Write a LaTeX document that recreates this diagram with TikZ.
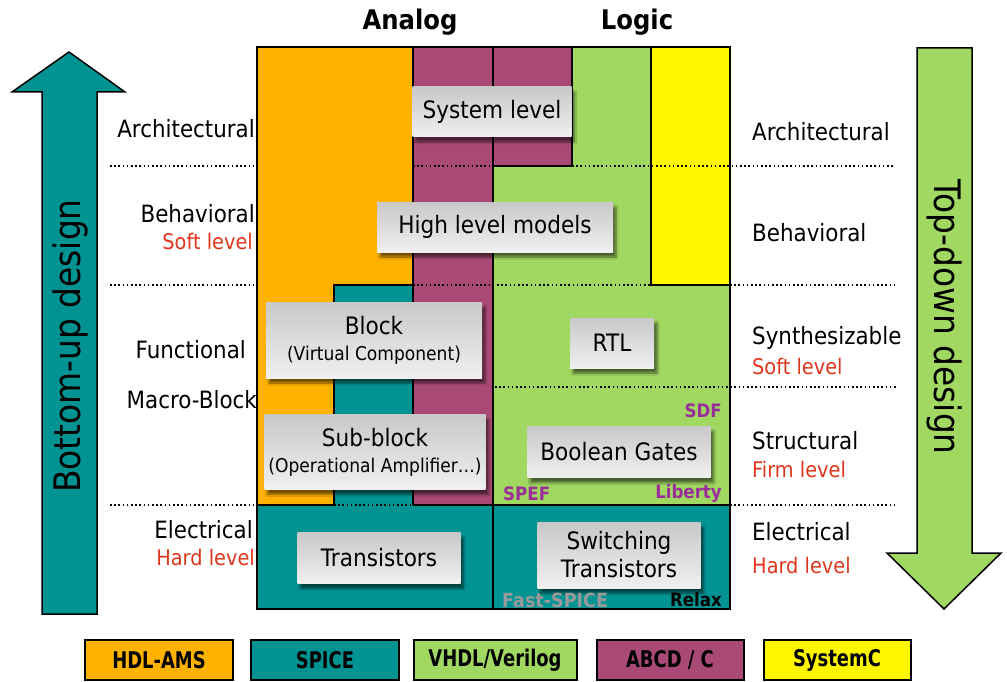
\documentclass[tikz,border=0pt]{standalone}
\usepackage{fontspec}
\setmainfont{DejaVu Sans}[FakeStretch=0.9]
\newfontfamily\legfont{DejaVu Sans}[FakeStretch=0.78]
\usetikzlibrary{shadows.blur}
\definecolor{cOr}{HTML}{FFB300}
\definecolor{cTe}{HTML}{009391}
\definecolor{cGr}{HTML}{A1D862}
\definecolor{cPu}{HTML}{A94A76}
\definecolor{cYe}{HTML}{FFF700}
\definecolor{cRed}{HTML}{E0361C}
\definecolor{cLab}{HTML}{9B2D9B}
\definecolor{cGray}{HTML}{9A9A9A}
\definecolor{boxtop}{HTML}{C8C8C8}
\definecolor{boxbot}{HTML}{F0F0F0}
\begin{document}
\begin{tikzpicture}[x=1pt,y=-1pt,
  region/.style={line width=2pt,draw=black,line join=miter},
  gbox/.style={draw=none,top color=boxtop,bottom color=boxbot,
    blur shadow={shadow xshift=3pt,shadow yshift=-5pt,shadow blur steps=8,shadow opacity=55},
    inner sep=0pt,align=center,font=\fontsize{24}{29}\selectfont},
  side/.style={inner sep=0pt,font=\fontsize{23.8}{26}\selectfont},
  redtxt/.style={inner sep=0pt,font=\fontsize{21.5}{24}\selectfont,text=cRed},
  dots/.style={line width=1.6pt,dash pattern=on 1.6pt off 2.6pt},
  tag/.style={inner sep=0pt,font=\fontsize{18.5}{22}\selectfont\bfseries},
  legbox/.style={draw=black,line width=2pt,minimum height=40pt,inner sep=0pt,
    font=\legfont\fontsize{23}{26}\selectfont\bfseries},
  bigarrow/.style={line width=1.5pt,draw=black,line join=miter}
]
\useasboundingbox (0,0) rectangle (1007,682);

% big arrows
\filldraw[bigarrow,fill=cTe] (42,614) -- (42,92) -- (12,92) -- (69,52) -- (125,92) -- (97,92) -- (97,614) -- cycle;
\filldraw[bigarrow,fill=cGr] (917,48) -- (972,48) -- (972,553) -- (1001,553) -- (944,609) -- (887,553) -- (917,553) -- cycle;
\node[rotate=90,font=\fontsize{36.5}{40}\selectfont] (bu) at (70,346) {Bottom-up design};
\node[rotate=-90,font=\fontsize{36.5}{40}\selectfont] (td) at (945,317) {Top-down design};

% titles
\node[font=\fontsize{27}{30}\selectfont\bfseries] (analog) at (410,22) {Analog};
\node[font=\fontsize{27}{30}\selectfont\bfseries] (logic) at (637,22) {Logic};

% regions
\fill[cOr] (257,47) rectangle (413,505);
\fill[cTe] (334,285) rectangle (413,505);
\fill[cPu] (413,47) rectangle (572,166);
\fill[cPu] (413,47) rectangle (493,505);
\fill[cGr] (572,47) -- (651,47) -- (651,285) -- (730,285) -- (730,505) -- (493,505) -- (493,166) -- (572,166) -- cycle;
\fill[cYe] (651,47) rectangle (730,285);
\fill[cTe] (257,505) rectangle (730,609);

% dotted level lines
\draw[dots] (110,166) -- (257,166);
\draw[dots] (110,285) -- (257,285);
\draw[dots] (110,505) -- (257,505);
\draw[dots] (413,166) -- (493,166);
\draw[dots] (572,166) -- (895,166);
\draw[dots] (413,285) -- (651,285);
\draw[dots] (730,285) -- (895,285);
\draw[dots] (495,387) -- (898,387);
\draw[dots] (334,505) -- (413,505);
\draw[dots] (730,505) -- (895,505);

% borders
\draw[region] (413,47) -- (413,505);
\draw[region] (493,47) -- (493,609);
\draw[region] (572,47) -- (572,166) -- (493,166);
\draw[region] (651,47) -- (651,285) -- (730,285);
\draw[region] (257,505) -- (334,505) -- (334,285) -- (413,285);
\draw[region] (413,505) -- (730,505);
\draw[region] (257,47) rectangle (730,609);

% grey boxes
\node[gbox,minimum width=159pt,minimum height=50pt] (sys) at (492,112) {System level};
\node[gbox,minimum width=236pt,minimum height=50pt] (hlm) at (495,227) {High level models};
\node[gbox,minimum width=216pt,minimum height=76pt] (blk) at (374,340) {Block\\[-3pt]{\fontsize{19}{22}\selectfont(Virtual Component)}};
\node[gbox,minimum width=84pt,minimum height=50pt] (rtl) at (612,343) {RTL};
\node[gbox,minimum width=221pt,minimum height=75pt] (sub) at (375,452) {Sub-block\\[-3pt]{\fontsize{19}{22}\selectfont(Operational Amplifier…)}};
\node[gbox,minimum width=183pt,minimum height=51pt] (bool) at (619,452) {Boolean Gates};
\node[gbox,minimum width=163pt,minimum height=51pt] (tr) at (379,558) {Transistors};
\node[gbox,minimum width=163pt,minimum height=66pt] (sw) at (619,555) {Switching\\[-1pt]Transistors};

% tags
\node[tag,text=cLab,anchor=east] (sdf) at (722,411) {SDF};
\node[tag,text=cLab,anchor=east] (lib) at (722,493) {Liberty};
\node[tag,text=cLab,anchor=west] (spef) at (503,494) {SPEF};
\node[tag,text=cGray,anchor=west,font=\fontsize{19.5}{22}\selectfont\bfseries] (fs) at (502,600) {Fast-SPICE};
\node[tag,text=black,anchor=east] (rlx) at (722,600) {Relax};

% left labels
\node[side,anchor=east] (la1) at (255,129) {Architectural};
\node[side,anchor=east] (la2) at (255,214) {Behavioral};
\node[redtxt,anchor=east] (la3) at (253,241) {Soft level};
\node[side,anchor=east] (la4) at (246,350) {Functional};
\node[side,anchor=east] (la5) at (257,400) {Macro-Block};
\node[side,anchor=east] (la6) at (253,530) {Electrical};
\node[redtxt,anchor=east] (la7) at (255,557) {Hard level};

% right labels
\node[side,anchor=west] (ra1) at (752,132) {Architectural};
\node[side,anchor=west] (ra2) at (752,233) {Behavioral};
\node[side,anchor=west] (ra3) at (752,338) {Synthesizable};
\node[redtxt,anchor=west] (ra4) at (752,366) {Soft level};
\node[side,anchor=west] (ra5) at (752,441) {Structural};
\node[redtxt,anchor=west] (ra6) at (752,469) {Firm level};
\node[side,anchor=west] (ra7) at (752,532) {Electrical};
\node[redtxt,anchor=west] (ra8) at (752,565) {Hard level};

% legend
\node[legbox,fill=cOr,minimum width=148pt] (l1) at (159,660) {HDL-AMS};
\node[legbox,fill=cTe,minimum width=148pt] (l2) at (325,660) {SPICE};
\node[legbox,fill=cGr,minimum width=163pt] (l3) at (495,660) {VHDL/Verilog};
\node[legbox,fill=cPu,minimum width=147pt] (l4) at (670,660) {ABCD / C};
\node[legbox,fill=cYe,minimum width=147pt] (l5) at (837,660) {SystemC};
\end{tikzpicture}
\end{document}
